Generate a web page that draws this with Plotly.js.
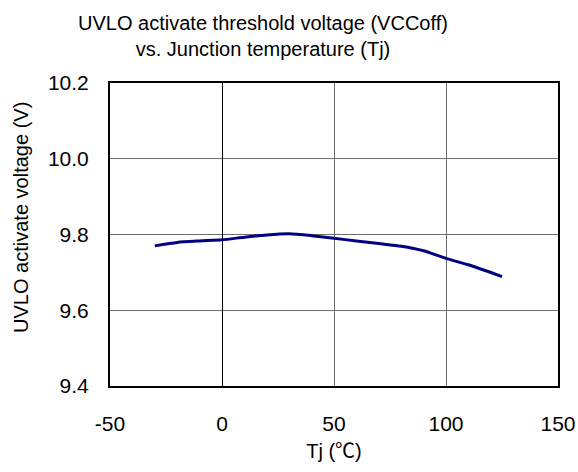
<!DOCTYPE html>
<html>
<head>
<meta charset="utf-8">
<script src="https://cdn.plot.ly/plotly-3.0.1.min.js"></script>
<style>html,body{margin:0;padding:0;background:#fff;}#chart{width:578px;height:472px;}</style>
</head>
<body>
<div id="chart"></div>
<script>
// Data
const tj = [-30, -20, -10, 0, 10, 20, 30, 40, 50, 60, 70, 80, 90, 100, 110, 125];
const vccOff = [9.770, 9.779, 9.783, 9.786, 9.793, 9.799, 9.802, 9.797, 9.790, 9.783, 9.776, 9.769, 9.757, 9.737, 9.720, 9.689];
const xTicks = [-50, 0, 50, 100, 150];
const yTicks = [9.4, 9.6, 9.8, 10.0, 10.2];
const yTickText = ['9.4', '9.6', '9.8', '10.0', '10.2'];
const refV = 9.8;

const FONT = 'Liberation Sans, Arial, Noto Sans CJK JP, sans-serif';

const trace = {
  x: tj, y: vccOff, type: 'scatter', mode: 'lines',
  line: {color: '#000080', width: 3, shape: 'spline', smoothing: 0.6},
  hoverinfo: 'skip'
};

const layout = {
  width: 578, height: 472,
  margin: {l: 110, r: 20, t: 83, b: 86},
  paper_bgcolor: '#ffffff', plot_bgcolor: '#ffffff',
  showlegend: false,
  font: {family: FONT, size: 20, color: '#000'},
  title: {
    text: 'UVLO activate threshold voltage (VCCoff)<br>vs. Junction temperature (Tj)',
    font: {family: FONT, size: 20, color: '#000'},
    x: 0.455, xanchor: 'center', xref: 'container',
    y: 0.936, yanchor: 'top', yref: 'container'
  },
  xaxis: {
    range: [-50, 150], tickvals: xTicks, ticktext: xTicks.map(String),
    showgrid: true, gridcolor: '#6e6e6e', gridwidth: 1,
    zeroline: true, zerolinecolor: '#000', zerolinewidth: 1,
    showline: true, linecolor: '#000', linewidth: 2, mirror: true,
    ticks: '', ticklabelstandoff: 18,
    tickfont: {family: FONT, size: 21, color: '#000'},
    title: {text: 'Tj (<span style="font-family:Noto Sans CJK JP">℃</span>)', font: {family: FONT, size: 20, color: '#000'}, standoff: 3},
    fixedrange: true
  },
  yaxis: {
    range: [9.4, 10.2], tickvals: yTicks, ticktext: yTickText,
    showgrid: true, gridcolor: '#6e6e6e', gridwidth: 1,
    zeroline: false,
    showline: true, linecolor: '#000', linewidth: 2, mirror: true,
    ticks: '', ticklabelstandoff: 15,
    tickfont: {family: FONT, size: 21, color: '#000'},
    fixedrange: true
  },
  shapes: [{
    type: 'line', xref: 'paper', yref: 'y', x0: 0, x1: 1, y0: refV, y1: refV,
    line: {color: '#000', width: 1}, layer: 'below'
  }],
  annotations: [{
    text: 'UVLO activate voltage (V)', xref: 'paper', yref: 'paper',
    x: -0.1987, y: 0.558, xanchor: 'center', yanchor: 'middle',
    textangle: -90, showarrow: false,
    font: {family: FONT, size: 20, color: '#000'}
  }]
};

Plotly.newPlot('chart', [trace], layout, {staticPlot: true, displayModeBar: false});
</script>
</body>
</html>
